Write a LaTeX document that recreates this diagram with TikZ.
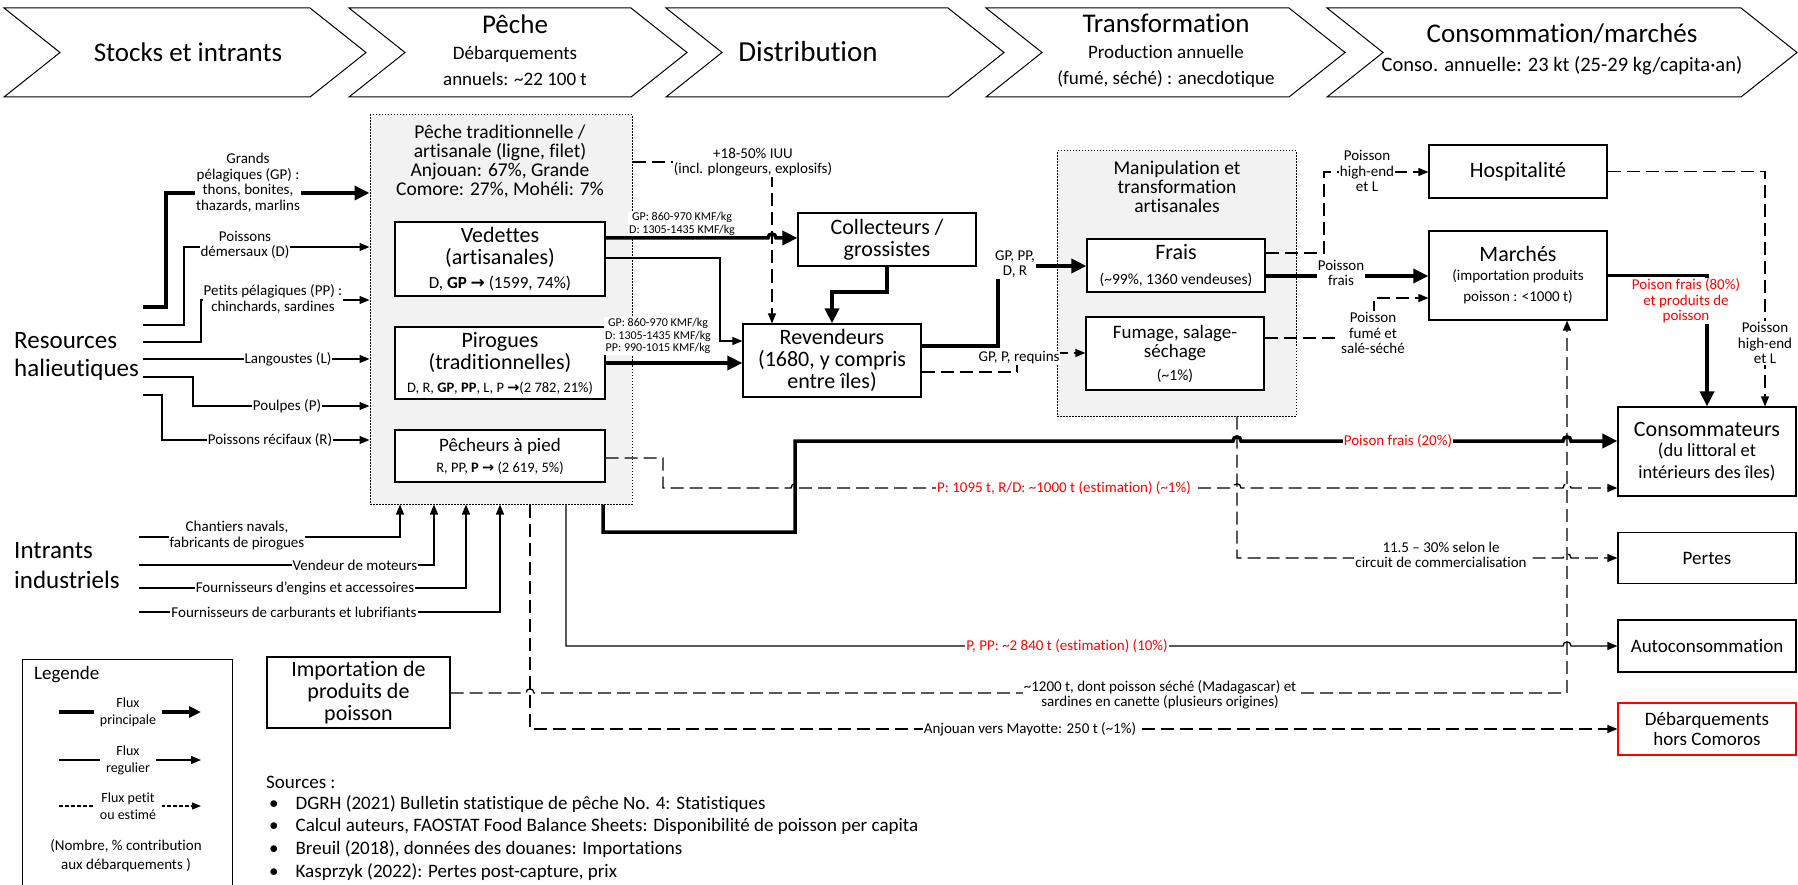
\documentclass[tikz,border=0pt]{standalone}
\usepackage{fontspec}
\setmainfont{Carlito}[Ligatures={TeX,NoCommon}]
\newfontfamily\symfnt{DejaVu Sans}
\usetikzlibrary{arrows.meta}
\newcommand\rarr{{\symfnt\bfseries →}}
\newcommand\fHead{\fontsize{27}{30}\selectfont}
\newcommand\fSub{\fontsize{19}{26}\selectfont}
\newcommand\fBig{\fontsize{25}{28}\selectfont}
\newcommand\fBox{\fontsize{22}{22}\selectfont}
\newcommand\fLbl{\fontsize{15}{15.5}\selectfont}
\newcommand\fTiny{\fontsize{12}{12.5}\selectfont}
\newcommand\fTitle{\fontsize{19.5}{19}\selectfont}
\newcommand\fSrc{\fontsize{19}{22.8}\selectfont}
\newcommand\tld{\textasciitilde}
\definecolor{dotfill}{HTML}{F2F2F2}
\definecolor{redtxt}{HTML}{FF0000}
\begin{document}
\begin{tikzpicture}[x=1pt,y=-1pt,
  chev/.style={draw, line width=1pt, line join=miter},
  bx/.style={draw, line width=1.2pt, fill=white, inner sep=0pt, align=center, font=\fBox},
  dbx/.style={draw, line width=1pt, dash pattern=on 1.5pt off 1.5pt, fill=dotfill, inner sep=0pt},
  fmain/.style={line width=3.5pt, -{Triangle[length=15pt,width=14pt]}},
  freg/.style={line width=1.3pt, -{Triangle[length=10pt,width=8pt]}},
  fsmall/.style={line width=1.3pt, dash pattern=on 13pt off 6pt, -{Triangle[length=10pt,width=8pt]}},
  lbl/.style={fill=white, inner sep=1pt, align=center, font=\fLbl},
  rlbl/.style={lbl, text=redtxt},
  hd/.style={align=center, inner sep=0pt},
]
\useasboundingbox (0,0) rectangle (1798,885);

% ---------- header chevrons ----------
\draw[chev] (4,8) -- (310,8) -- (366,52.5) -- (310,97) -- (4,97) -- (60,52.5) -- cycle;
\draw[chev] (349,8) -- (631,8) -- (687,52.5) -- (631,97) -- (349,97) -- (405,52.5) -- cycle;
\draw[chev] (666,8) -- (948,8) -- (1004,52.5) -- (948,97) -- (666,97) -- (722,52.5) -- cycle;
\draw[chev] (986,8) -- (1289,8) -- (1345,52.5) -- (1289,97) -- (986,97) -- (1042,52.5) -- cycle;
\draw[chev] (1327,8) -- (1741,8) -- (1797,52.5) -- (1741,97) -- (1327,97) -- (1383,52.5) -- cycle;
\node[hd, font=\fHead] (h1) at (188,52) {Stocks et intrants};
\node[hd, font=\fSub] (h2) at (515,50.5) {{\fHead Pêche}\\Débarquements\\annuels: \tld22 100 t};
\node[hd, font=\fontsize{29}{30}\selectfont] (h3) at (808,52) {Distribution};
\node[hd, font=\fSub] (h4) at (1166,50.5) {{\fHead Transformation}\\Production annuelle\\(fumé, séché) : anecdotique};
\node[hd, font=\fontsize{20.5}{26}\selectfont] (h5) at (1562,49) {{\fHead Consommation/marchés}\\[3pt]Conso. annuelle: 23 kt (25-29 kg/capita·an)};

% ---------- left texts ----------
\node[anchor=west, text width=125pt, align=left, font=\fBig, inner ysep=0pt, inner xsep=4pt] (res) at (10,356) {Resources\\halieutiques};
\node[anchor=west, text width=121pt, align=left, font=\fBig, inner ysep=0pt, inner xsep=4pt] (intr) at (10,566) {Intrants\\[2pt]industriels};

% ---------- boxes ----------
\node[dbx, minimum width=262pt, minimum height=389pt] (peche) at (501,309.5) {};
\node[hd, font=\fTitle] (pecheT) at (500,161) {Pêche traditionnelle /\\artisanale (ligne, filet)\\Anjouan: 67\%, Grande\\Comore: 27\%, Mohéli: 7\%};
\node[bx, minimum width=210pt, minimum height=74pt] (ved) at (500,259) {Vedettes\\(artisanales)\\[2pt]{\fontsize{17}{18}\selectfont D, \textbf{GP} \rarr{} (1599, 74\%)}};
\node[bx, minimum width=210pt, minimum height=72pt] (pir) at (500,363) {Pirogues\\(traditionnelles)\\[1pt]{\fontsize{14.5}{16}\selectfont D, R, \textbf{GP}, \textbf{PP}, L, P \rarr(2 782, 21\%)}};
\node[bx, minimum width=210pt, minimum height=52pt, font=\fontsize{19}{21}\selectfont] (pied) at (500,456) {Pêcheurs à pied\\{\fontsize{14.5}{16}\selectfont R, PP, \textbf{P} \rarr{} (2 619, 5\%)}};

\node[bx, minimum width=178pt, minimum height=53pt] (coll) at (887,239.5) {Collecteurs /\\grossistes};
\node[bx, minimum width=178pt, minimum height=73pt] (rev) at (832,360.5) {Revendeurs\\(1680, y compris\\entre îles)};

\node[dbx, minimum width=239pt, minimum height=265pt] (manip) at (1176.5,283.5) {};
\node[hd, font=\fTitle] (manipT) at (1177,187) {Manipulation et\\transformation\\artisanales};
\node[bx, minimum width=178pt, minimum height=53pt] (frais) at (1176,265.5) {Frais\\[3pt]{\fontsize{15.5}{17}\selectfont (\tld99\%, 1360 vendeuses)}};
\node[bx, minimum width=178pt, minimum height=73pt, font=\fontsize{19}{19}\selectfont] (fum) at (1175,353.5) {Fumage, salage-\\séchage\\[4pt]{\fontsize{15.5}{17}\selectfont (\tld1\%)}};

\node[bx, minimum width=178pt, minimum height=53pt] (hosp) at (1518,171.5) {Hospitalité};
\node[bx, minimum width=178pt, minimum height=89pt, font=\fontsize{15}{20}\selectfont] (marc) at (1518,275.5) {{\fBox Marchés}\\[-1pt](importation produits\\[1pt]poisson : <1000 t)};
\node[bx, minimum width=178pt, minimum height=89pt, font=\fontsize{18.5}{21}\selectfont] (cons) at (1707,451.5) {{\fBox Consommateurs}\\[-1pt](du littoral et\\[1pt]intérieurs des îles)};
\node[bx, minimum width=178pt, minimum height=51pt, font=\fontsize{19}{20}\selectfont] (pertes) at (1707,558) {Pertes};
\node[bx, minimum width=178pt, minimum height=52pt, font=\fontsize{19}{20}\selectfont] (auto) at (1707,646) {Autoconsommation};
\node[bx, draw=redtxt, minimum width=178pt, minimum height=52pt, font=\fontsize{19}{20}\selectfont] (hors) at (1707,729) {Débarquements\\hors Comoros};
\node[bx, minimum width=183pt, minimum height=71pt] (imp) at (358.5,692.5) {Importation de\\produits de\\poisson};

% ---------- resources -> peche ----------
\draw[fmain] (res.east |- 0,307) -| (166,193) -- (peche.west |- 0,193);
\draw[freg] (res.east |- 0,325) -| (184,247) -- (peche.west |- 0,247);
\draw[freg] (res.east |- 0,342) -| (201,300) -- (peche.west |- 0,300);
\draw[freg] (res.east |- 0,359) -- (peche.west |- 0,359);
\draw[freg] (res.east |- 0,377) -| (193,406) -- (peche.west |- 0,406);
\draw[freg] (res.east |- 0,395) -| (162,440) -- (peche.west |- 0,440);
\node[lbl] (lGP) at (248,183) {Grands\\pélagiques (GP) :\\thons, bonites,\\thazards, marlins};
\node[lbl] (lD) at (245,245) {Poissons\\démersaux (D)};
\node[lbl] (lPP) at (273,299) {Petits pélagiques (PP) :\\chinchards, sardines};
\node[lbl] (lL) at (288,359) {Langoustes (L)};
\node[lbl] (lP) at (287,406) {Poulpes (P)};
\node[lbl] (lR) at (270,440) {Poissons récifaux (R)};

% ---------- intrants -> peche ----------
\draw[freg] (intr.east |- 0,537) -| (peche.south -| 400,0);
\draw[freg] (intr.east |- 0,565) -| (peche.south -| 434,0);
\draw[freg] (intr.east |- 0,588) -| (peche.south -| 466,0);
\draw[freg] (intr.east |- 0,612) -| (peche.south -| 500,0);
\node[lbl] (lch) at (237,535.5) {Chantiers navals,\\fabricants de pirogues};
\node[lbl] (lvm) at (355,565) {Vendeur de moteurs};
\node[lbl] (lfe) at (305,588) {Fournisseurs d’engins et accessoires};
\node[lbl] (lfc) at (294,612) {Fournisseurs de carburants et lubrifiants};

% ---------- distribution ----------
\draw[fsmall] (peche.east |- 0,162) -| (rev.north -| 772,0);
\draw[fmain] (ved.east |- 0,238) -- (768,238) .. controls (768,232.5) and (776,232.5) .. (776,238) -- (coll.west |- 0,238);
\draw[freg] (ved.east |- 0,258) -| (720,341) -- (rev.west |- 0,341);
\draw[fmain] (pir.east |- 0,363) -- (rev.west |- 0,363);
\draw[fmain] (coll.south) -- (887,292) -| (rev.north);
\draw[fmain] (rev.east |- 0,346) -| (998,266) -- (frais.west |- 0,266);
\draw[fsmall] (rev.east |- 0,372) -| (1017,353) -- (fum.west |- 0,353);
\node[lbl] (lIUU) at (753,162) {+18-50\% IUU\\(incl. plongeurs, explosifs)};
\node[lbl, font=\fTiny] (lpv) at (682,224) {GP: 860-970 KMF/kg\\D: 1305-1435 KMF/kg};
\node[lbl, font=\fTiny] (lpp) at (658,336) {GP: 860-970 KMF/kg\\D: 1305-1435 KMF/kg\\PP: 990-1015 KMF/kg};
\node[lbl] (lrf) at (1015,264) {GP, PP,\\D, R};
\node[lbl] (lrq) at (1019,358) {GP, P, requins};

% ---------- transformation -> consumption ----------
\draw[fsmall] (frais.east |- 0,253) -| (1324,172) -- (hosp.west |- 0,172);
\draw[fmain] (frais.east |- 0,276) -- (marc.west |- 0,276);
\draw[fsmall] (fum.east |- 0,338) -| (1374,298) -- (marc.west |- 0,298);
\node[lbl] (lhe) at (1367,171) {Poisson\\high-end\\et L};
\node[lbl] (lpf) at (1341,273) {Poisson\\frais};
\node[lbl] (lfs) at (1373,333) {Poisson\\fumé et\\salé-séché};

\draw[fsmall] (hosp.east) -| (cons.north -| 1765,0);
\draw[fmain] (marc.east) -| (cons.north);
\node[lbl] (lhe2) at (1765,343) {Poisson\\high-end\\et L};
\node[rlbl] (l80) at (1686,301) {Poison frais (80\%)\\et produits de\\poisson};

% ---------- lower flows ----------
\draw[fmain] (peche.south -| 603,0) -- (603,532) -- (795,532) -- (795,441) -- (1233,441) .. controls (1233,435.5) and (1241,435.5) .. (1241,441) -- (1563,441) .. controls (1563,435.5) and (1571,435.5) .. (1571,441) -- (cons.west |- 0,441);
\node[rlbl] (l20) at (1398,441) {Poison frais (20\%)};

\draw[fsmall] (pied.east |- 0,458) -| (663,488) -- (791,488) .. controls (791,482.5) and (799,482.5) .. (799,488) -- (1233,488) .. controls (1233,482.5) and (1241,482.5) .. (1241,488) -- (1563,488) .. controls (1563,482.5) and (1571,482.5) .. (1571,488) -- (cons.west |- 0,488);
\node[rlbl] (l1pct) at (1064,488) {P: 1095 t, R/D: \tld1000 t (estimation) (\tld1\%)};

\draw[fsmall] (manip.south -| 1237,0) -- (1237,558) -- (1563,558) .. controls (1563,552.5) and (1571,552.5) .. (1571,558) -- (pertes.west);
\node[lbl] (lpert) at (1441,555) {11.5 – 30\% selon le\\circuit de commercialisation};

\draw[freg] (peche.south -| 566,0) -- (566,646) -- (1563,646) .. controls (1563,640.5) and (1571,640.5) .. (1571,646) -- (auto.west);
\node[rlbl] (l10) at (1067,646) {P, PP: \tld2 840 t (estimation) (10\%)};

\draw[fsmall] (peche.south -| 530,0) -- (530,729) -- (hors.west);
\node[lbl] (lmay) at (1030,729) {Anjouan vers Mayotte: 250 t (\tld1\%)};

\draw[fsmall] (imp.east |- 0,693) -- (526,693) .. controls (526,687.5) and (534,687.5) .. (534,693) -- (1567,693) -- (marc.south -| 1567,0);
\node[lbl] (limp) at (1160,695) {\tld1200 t, dont poisson séché (Madagascar) et\\sardines en canette (plusieurs origines)};

% ---------- legend ----------
\node[draw, line width=1.2pt, minimum width=210pt, minimum height=240pt, anchor=north west, inner sep=0pt] (leg) at (22,659) {};
\node[anchor=west, font=\fontsize{19}{20}\selectfont, inner sep=0pt] (legT) at (34,675) {Legende};
\coordinate (lg1a) at (59,712); \coordinate (lg1b) at (201,712);
\coordinate (lg2a) at (59,760); \coordinate (lg2b) at (201,760);
\coordinate (lg3a) at (59,806); \coordinate (lg3b) at (201,806);
\draw[line width=3.5pt, -{Triangle[length=12pt,width=11pt]}] (lg1a) -- (lg1b);
\draw[freg] (lg2a) -- (lg2b);
\draw[line width=1.2pt, dash pattern=on 4pt off 2pt, -{Triangle[length=9pt,width=7pt]}] (lg3a) -- (lg3b);
\node[lbl, font=\fontsize{14}{17}\selectfont, inner xsep=6pt] (lg1t) at (128,712) {Flux\\principale};
\node[lbl, font=\fontsize{14}{17}\selectfont, inner xsep=6pt] (lg2t) at (128,760) {Flux\\regulier};
\node[lbl, font=\fontsize{14}{17}\selectfont, inner xsep=6pt] (lg3t) at (128,806) {Flux petit\\ou estimé};
\node[hd, font=\fontsize{15}{19}\selectfont] (lgN) at (126,856) {(Nombre, \% contribution\\aux débarquements )};

% ---------- sources ----------
\node[anchor=base west, font=\fSrc, inner sep=0pt] (srcT) at (266,788) {Sources :};
\node[anchor=north west, font=\fSrc, inner sep=0pt] (src) at (266,793) {\begin{tabular}{@{\hspace{3pt}}l@{\hspace{17pt}}l@{}}
\textbullet & DGRH (2021) Bulletin statistique de pêche No. 4: Statistiques\\
\textbullet & Calcul auteurs, FAOSTAT Food Balance Sheets: Disponibilité de poisson per capita\\
\textbullet & Breuil (2018), données des douanes: Importations\\
\textbullet & Kasprzyk (2022): Pertes post-capture, prix
\end{tabular}};
\end{tikzpicture}
\end{document}
